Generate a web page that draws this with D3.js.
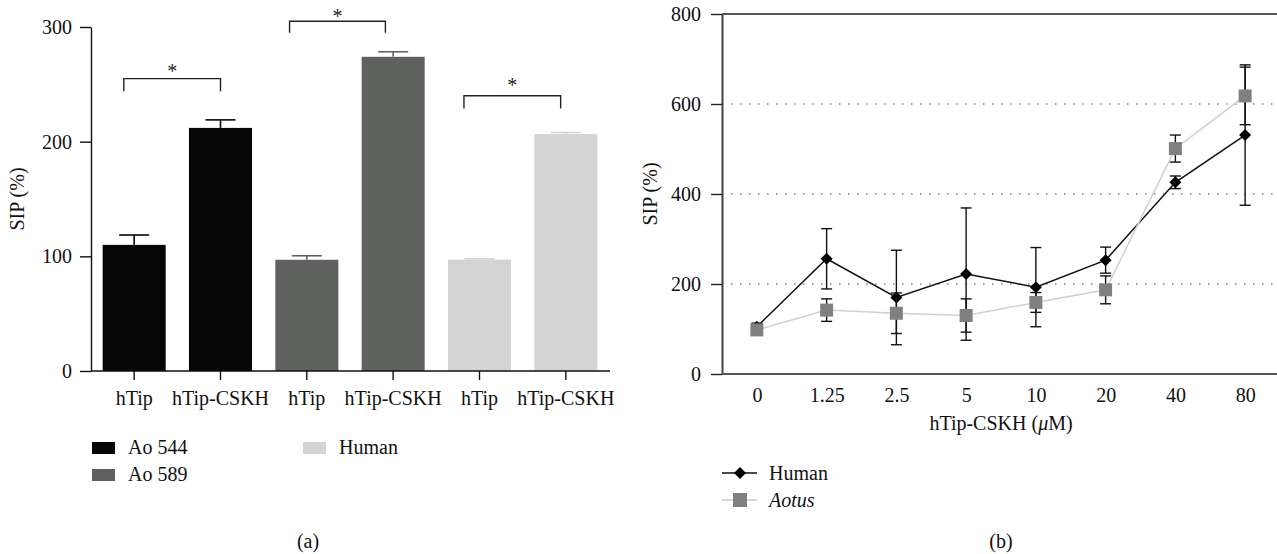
<!DOCTYPE html>
<html>
<head>
<meta charset="utf-8">
<script src="https://cdn.jsdelivr.net/npm/d3@7"></script>
<style>
  body { margin: 0; background: #fff; }
  svg { display: block; font-family: "Liberation Serif", "DejaVu Serif", serif; }
</style>
</head>
<body>
<div id="chart"></div>
<script>
// ---- panel (a) data ----
var barLabels = ["hTip", "hTip-CSKH", "hTip", "hTip-CSKH", "hTip", "hTip-CSKH"];
var barGroups = ["Ao 544", "Ao 544", "Ao 589", "Ao 589", "Human", "Human"];
var barValues = [110, 212, 97, 274, 97.2, 206.6];
var barErrors = [8.6, 7, 3.5, 4.4, 0.6, 1.4];
var barTicks = [0, 100, 200, 300];
var groupNames = ["Ao 544", "Ao 589", "Human"];
var groupColors = ["#060606", "#5f615f", "#d4d4d4"];
// significance brackets (bar index span, heights in SIP %)
var bracketFrom = [-0.12, 1.8, 3.82];
var bracketTo = [1, 2.91, 4.94];
var bracketTop = [255, 305, 240];
var bracketLeg = [244, 295, 229];
var starLevel = [265, 313, 253];

// ---- panel (b) data ----
var doses = ["0", "1.25", "2.5", "5", "10", "20", "40", "80"];
var humanMean = [105, 256, 170, 222, 193, 253, 426, 531];
var humanErr = [8, 67, 105, 147, 88, 29, 14, 156];
var aotusMean = [98, 142, 135, 130, 159, 187, 501, 618];
var aotusErr = [2, 25, 45, 37, 22, 31, 30, 64];
var sipTicks = [0, 200, 400, 600, 800];

var W = 1277, H = 554;
var svg = d3.select("#chart").append("svg").attr("width", W).attr("height", H);
svg.append("rect").attr("width", W).attr("height", H).attr("fill", "#fff");

var fs = 20;
var ff = "Liberation Serif";

// ================= panel (a) =================
var a = svg.append("g");
var ya = d3.scaleLinear().domain([0, 300]).range([371, 27]);
var xa = d3.scaleBand().domain(d3.range(barValues.length)).range([91, 609]);
var barW = xa.bandwidth() * 0.73;
var colorA = d3.scaleOrdinal().domain(groupNames).range(groupColors);
var mid = function(i) { return xa(i) + xa.bandwidth() / 2; };
var xi = d3.scaleLinear().domain([0, barValues.length - 1]).range([mid(0), mid(barValues.length - 1)]);

a.selectAll("rect.bar")
  .data(barValues)
  .enter().append("rect")
  .attr("class", "bar")
  .attr("x", function(d, i) { return mid(i) - barW / 2; })
  .attr("y", function(d) { return ya(d); })
  .attr("width", barW)
  .attr("height", function(d) { return ya(0) - ya(d); })
  .attr("fill", function(d, i) { return colorA(barGroups[i]); });

// error bars (upper only)
var errA = a.selectAll("g.err").data(barValues).enter().append("g")
  .attr("stroke", function(d, i) { return colorA(barGroups[i]); })
  .attr("stroke-width", 1.6);
errA.append("line")
  .attr("x1", function(d, i) { return mid(i); })
  .attr("x2", function(d, i) { return mid(i); })
  .attr("y1", function(d) { return ya(d); })
  .attr("y2", function(d, i) { return ya(d + barErrors[i]); });
errA.append("line")
  .attr("x1", function(d, i) { return mid(i) - 15; })
  .attr("x2", function(d, i) { return mid(i) + 15; })
  .attr("y1", function(d, i) { return ya(d + barErrors[i]); })
  .attr("y2", function(d, i) { return ya(d + barErrors[i]); });

// axes
var yAxisA = a.append("g").attr("transform", "translate(91,0)")
  .call(d3.axisLeft(ya).tickValues(barTicks).tickSize(11).tickPadding(8).tickSizeOuter(0));
yAxisA.attr("font-family", ff).attr("font-size", fs);
yAxisA.selectAll("text").attr("fill", "#111");
yAxisA.selectAll("line, path").attr("stroke", "#111").attr("stroke-width", 1.4);

var xAxisA = a.append("g").attr("transform", "translate(0,371)")
  .call(d3.axisBottom(xa).tickSize(9).tickSizeOuter(0).tickFormat(function(i) { return barLabels[i]; }));
xAxisA.attr("font-family", ff).attr("font-size", fs);
xAxisA.select("path").attr("d", "M91,0H610");
xAxisA.selectAll("line, path").attr("stroke", "#111").attr("stroke-width", 1.4);
xAxisA.selectAll("text").attr("fill", "#111").attr("dy", null).attr("y", 34);

a.append("text").attr("transform", "translate(24," + ((ya(0) + ya(300)) / 2) + ") rotate(-90)")
  .attr("text-anchor", "middle").attr("font-size", fs).attr("fill", "#111").text("SIP (%)");

// brackets
bracketTop.forEach(function(t, k) {
  var x1 = xi(bracketFrom[k]), x2 = xi(bracketTo[k]);
  a.append("path")
    .attr("d", "M" + x1 + "," + ya(bracketLeg[k]) + "V" + ya(t) + "H" + x2 + "V" + ya(bracketLeg[k]))
    .attr("fill", "none").attr("stroke", "#222").attr("stroke-width", 1.4);
  a.append("text").attr("x", (x1 + x2) / 2).attr("y", ya(starLevel[k]) + 11)
    .attr("text-anchor", "middle").attr("font-size", fs).attr("fill", "#222").text("*");
});

// legend (a)
var legA = [[92, 448], [92, 475], [303, 448]];
groupNames.forEach(function(g, k) {
  a.append("rect").attr("x", legA[k][0]).attr("y", legA[k][1] - 6)
    .attr("width", 23).attr("height", 12).attr("fill", colorA(g));
  a.append("text").attr("x", legA[k][0] + 36).attr("y", legA[k][1] + 6)
    .attr("font-size", fs).attr("fill", "#111").text(g);
});

a.append("text").attr("x", 308).attr("y", 548).attr("text-anchor", "middle")
  .attr("font-size", fs).attr("fill", "#111").text("(a)");

// ================= panel (b) =================
var b = svg.append("g");
var yb = d3.scaleLinear().domain([0, 800]).range([374, 14]);
var xb = d3.scalePoint().domain(doses).range([722, 1280]).padding(0.5);

// dotted grid
b.selectAll("line.grid").data([200, 400, 600]).enter().append("line")
  .attr("x1", 722).attr("x2", W)
  .attr("y1", function(d) { return yb(d); }).attr("y2", function(d) { return yb(d); })
  .attr("stroke", "#444").attr("stroke-width", 1.2).attr("stroke-dasharray", "1.5 7.5");
// top frame line
b.append("line").attr("x1", 722).attr("x2", W).attr("y1", yb(800)).attr("y2", yb(800))
  .attr("stroke", "#222").attr("stroke-width", 1.4);

var yAxisB = b.append("g").attr("transform", "translate(722,0)")
  .call(d3.axisLeft(yb).tickValues(sipTicks).tickSize(11).tickPadding(10).tickSizeOuter(0));
yAxisB.attr("font-family", ff).attr("font-size", fs);
yAxisB.selectAll("text").attr("fill", "#111");
yAxisB.selectAll("line").attr("stroke", "#222").attr("stroke-width", 1.4);
yAxisB.select("path").attr("stroke", "#444").attr("stroke-width", 2);

var xAxisB = b.append("g").attr("transform", "translate(0,374)")
  .call(d3.axisBottom(xb).tickSize(0).tickPadding(14));
xAxisB.attr("font-family", ff).attr("font-size", fs);
xAxisB.select("path").attr("d", "M722,0H" + W).attr("stroke", "#555").attr("stroke-width", 2);
xAxisB.selectAll("text").attr("fill", "#111");

b.append("text").attr("transform", "translate(657," + ((yb(0) + yb(800)) / 2) + ") rotate(-90)")
  .attr("text-anchor", "middle").attr("font-size", fs).attr("fill", "#111").text("SIP (%)");

var xt = b.append("text").attr("x", (722 + 1280) / 2).attr("y", 430)
  .attr("text-anchor", "middle").attr("font-size", fs).attr("fill", "#111");
xt.append("tspan").text("hTip-CSKH (");
xt.append("tspan").attr("font-style", "italic").text("\u03bc");
xt.append("tspan").text("M)");

var line = d3.line().x(function(d, i) { return xb(doses[i]); }).y(function(d) { return yb(d); });
var diamond = d3.symbol().type(d3.symbolSquare).size(72);
var square = d3.symbol().type(d3.symbolSquare).size(169);

function drawSeries(means, errs, lineColor, markerPath, markerColor, rotate) {
  var g = b.append("g");
  g.append("path").datum(means).attr("d", line)
    .attr("fill", "none").attr("stroke", lineColor).attr("stroke-width", 1.5);
  var e = g.selectAll("g.e").data(means).enter().append("g")
    .attr("stroke", "#111").attr("stroke-width", 1.4);
  e.append("line")
    .attr("x1", function(d, i) { return xb(doses[i]); })
    .attr("x2", function(d, i) { return xb(doses[i]); })
    .attr("y1", function(d, i) { return yb(d - errs[i]); })
    .attr("y2", function(d, i) { return yb(d + errs[i]); });
  [-1, 1].forEach(function(s) {
    e.append("line")
      .attr("x1", function(d, i) { return xb(doses[i]) - 5.5; })
      .attr("x2", function(d, i) { return xb(doses[i]) + 5.5; })
      .attr("y1", function(d, i) { return yb(d + s * errs[i]); })
      .attr("y2", function(d, i) { return yb(d + s * errs[i]); });
  });
  g.selectAll("path.m").data(means).enter().append("path")
    .attr("class", "m")
    .attr("d", markerPath)
    .attr("transform", function(d, i) {
      return "translate(" + xb(doses[i]) + "," + yb(d) + ")" + (rotate ? " rotate(45)" : "");
    })
    .attr("fill", markerColor);
}

drawSeries(humanMean, humanErr, "#111", diamond, "#000", true);
drawSeries(aotusMean, aotusErr, "#d0d0d0", square, "#808080", false);

// legend (b)
var lg = b.append("g");
lg.append("line").attr("x1", 722).attr("x2", 757).attr("y1", 473).attr("y2", 473)
  .attr("stroke", "#111").attr("stroke-width", 1.5);
lg.append("path").attr("d", diamond).attr("transform", "translate(740,473) rotate(45)").attr("fill", "#000");
lg.append("text").attr("x", 769).attr("y", 480).attr("font-size", fs).attr("fill", "#111").text("Human");
lg.append("line").attr("x1", 722).attr("x2", 757).attr("y1", 500).attr("y2", 500)
  .attr("stroke", "#c8c8c8").attr("stroke-width", 1.5);
lg.append("path").attr("d", d3.symbol().type(d3.symbolSquare).size(196)).attr("transform", "translate(740,500)").attr("fill", "#808080");
lg.append("text").attr("x", 769).attr("y", 507).attr("font-size", fs).attr("font-style", "italic")
  .attr("fill", "#111").text("Aotus");

b.append("text").attr("x", 1001).attr("y", 548).attr("text-anchor", "middle")
  .attr("font-size", fs).attr("fill", "#111").text("(b)");
</script>
</body>
</html>
